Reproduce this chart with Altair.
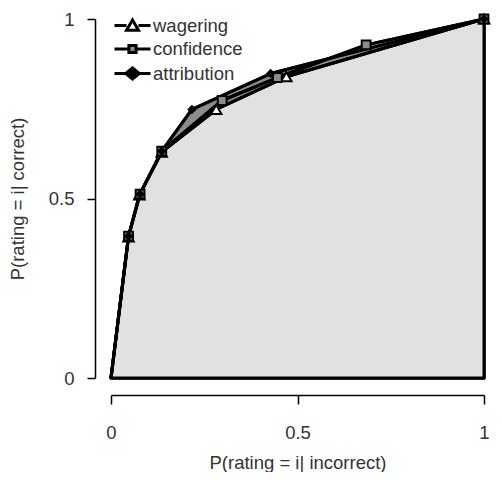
import altair as alt
import pandas as pd

series_names = ["wagering", "confidence", "attribution"]

wager_x = [0.0, 0.047, 0.076, 0.136, 0.282, 0.470, 1.0]
wager_y = [0.0, 0.393, 0.510, 0.629, 0.748, 0.839, 1.0]

conf_x = [0.0, 0.047, 0.078, 0.136, 0.298, 0.446, 0.684, 1.0]
conf_y = [0.0, 0.395, 0.512, 0.632, 0.773, 0.837, 0.928, 1.0]

attr_x = [0.0, 0.047, 0.078, 0.136, 0.217, 0.428, 1.0]
attr_y = [0.0, 0.395, 0.512, 0.632, 0.748, 0.848, 1.0]

ticks = [0, 0.5, 1]

rows = []
for name, xs, ys in zip(series_names, [wager_x, conf_x, attr_x], [wager_y, conf_y, attr_y]):
    for i, (xv, yv) in enumerate(zip(xs, ys)):
        rows.append({"series": name, "x": xv, "y": yv, "order": i})
df = pd.DataFrame(rows)

FONT = "Liberation Sans"
TXT = "#333333"

xscale = alt.Scale(domain=[0, 1], nice=False, zero=False)
yscale = alt.Scale(domain=[0, 1], nice=False, zero=False)

xaxis = alt.Axis(values=ticks, format="~g", title="P(rating = i| incorrect)",
                 offset=17, tickSize=9, labelPadding=19, titlePadding=12,
                 grid=False, labelFlush=False)
yaxis = alt.Axis(values=ticks, format="~g", title="P(rating = i| correct)",
                 offset=16, tickSize=8, labelPadding=13, titlePadding=21,
                 grid=False, labelAngle=0, labelFlush=False)

base = alt.Chart(df)


def area_for(name, fill, with_axes=False):
    enc_x = alt.X("x:Q", scale=xscale, axis=xaxis) if with_axes else alt.X("x:Q", scale=xscale)
    enc_y = (alt.Y("y:Q", scale=yscale, axis=yaxis, stack=None) if with_axes
             else alt.Y("y:Q", scale=yscale, stack=None))
    return base.transform_filter(
        alt.FieldEqualPredicate(field="series", equal=name)
    ).mark_area(fill=fill, stroke="black", strokeWidth=3, strokeJoin="round").encode(
        x=enc_x, y=enc_y, y2=alt.datum(0)
    )


area_attr = area_for("attribution", "#8c8c8c", with_axes=True)
area_conf = area_for("confidence", "#8c8c8c")
area_wager = area_for("wagering", "#e1e1e1")

lines = base.mark_line(color="black", strokeWidth=3, strokeJoin="round").encode(
    x=alt.X("x:Q", scale=xscale),
    y=alt.Y("y:Q", scale=yscale),
    detail="series:N",
    order="order:Q",
)

points = base.transform_filter(alt.datum.x > 0).mark_point(
    stroke="black", strokeWidth=2, opacity=1
).encode(
    x=alt.X("x:Q", scale=xscale),
    y=alt.Y("y:Q", scale=yscale),
    shape=alt.Shape("series:N", scale=alt.Scale(domain=series_names,
                    range=["triangle-up", "square", "diamond"]), legend=None),
    fill=alt.Fill("series:N", scale=alt.Scale(domain=series_names,
                  range=["white", "#8c8c8c", "black"]), legend=None),
    size=alt.Size("series:N", scale=alt.Scale(domain=series_names,
                  range=[110, 45, 110]), legend=None),
)

tri_path = "M-2.25,0L-0.75,0M0.75,0L2.25,0M0,-0.7L0.75,0.6L-0.75,0.6Z"
sq_path = "M-2.25,0L-0.45,0M0.45,0L2.25,0M-0.45,-0.45L0.45,-0.45L0.45,0.45L-0.45,0.45Z"
dia_path = "M-2.25,0L2.25,0M0,-0.7L0.85,0L0,0.7L-0.85,0Z"

legend_spec = alt.Legend(title=None, orient="none", legendX=12, legendY=-3,
                         symbolSize=256, symbolStrokeWidth=3,
                         symbolStrokeColor="black", symbolOpacity=1,
                         labelFontSize=18.5, labelFont=FONT, labelColor=TXT,
                         labelOffset=11, rowPadding=1.5, padding=0)

legend_layer = base.mark_point(opacity=0).encode(
    x=alt.X("x:Q", scale=xscale),
    y=alt.Y("y:Q", scale=yscale),
    shape=alt.Shape("series:N", scale=alt.Scale(domain=series_names,
                    range=[tri_path, sq_path, dia_path]), legend=legend_spec),
    fill=alt.Fill("series:N", scale=alt.Scale(domain=series_names,
                  range=["white", "#8c8c8c", "black"]), legend=legend_spec),
    stroke=alt.Stroke("series:N", scale=alt.Scale(domain=series_names,
                      range=["black", "black", "black"]), legend=legend_spec),
)

chart = alt.layer(area_attr, area_conf, area_wager, lines, points, legend_layer).resolve_scale(
    shape="independent", fill="independent", size="independent", stroke="independent"
).properties(
    width=486, height=464,
    autosize=alt.AutoSizeParams(type="fit", contains="padding"),
    padding={"left": 0, "top": 2, "right": 0, "bottom": 0},
).configure_view(stroke=None).configure_axis(
    labelFont=FONT, titleFont=FONT, labelFontSize=18.5, titleFontSize=18.5,
    labelColor=TXT, titleColor=TXT, titleFontWeight="normal",
    domainColor="black", tickColor="black", domainWidth=1.5, tickWidth=1.5,
)

chart.save("out.html", embed_options={"renderer": "svg", "actions": False})
